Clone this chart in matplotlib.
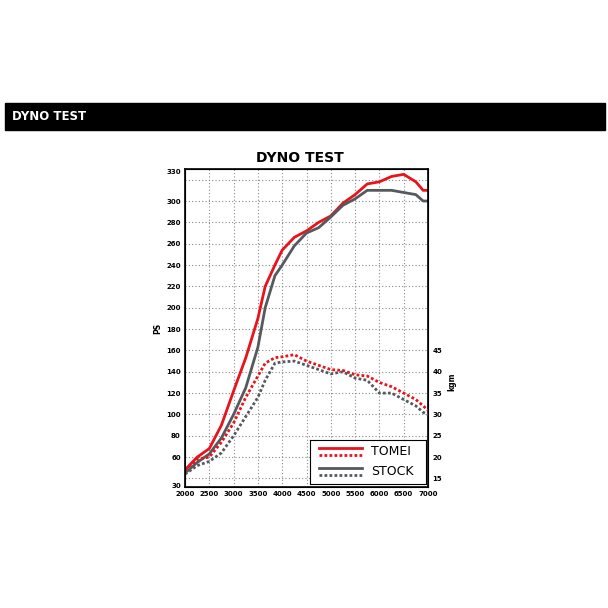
import matplotlib.pyplot as plt

rpm = [2000, 2250, 2500, 2750, 3000, 3250, 3500, 3650, 3850, 4000, 4250, 4500,
       4750, 5000, 5250, 5500, 5750, 6000, 6250, 6500, 6750, 6900, 7000]
tomei_ps = [48, 60, 68, 90, 122, 153, 190, 220, 240, 254, 266, 272,
            280, 286, 298, 306, 316, 318, 323, 325, 318, 310, 310]
stock_ps = [45, 55, 63, 78, 100, 125, 163, 200, 230, 240, 258, 270,
            275, 285, 296, 302, 310, 310, 310, 308, 306, 300, 300]
tomei_kgm = [17, 19.5, 20, 23.5, 28, 34, 39, 42, 43.3, 43.5, 44, 42.5,
             41.5, 40.5, 40.3, 39.3, 39, 37.5, 36.5, 35, 33.5, 32, 31]
stock_kgm = [16, 18, 19, 21, 25, 29.5, 34, 38, 42, 42.3, 42.5, 41.5,
             40.5, 39.5, 40, 38.5, 38, 35, 35, 33.5, 32, 30.5, 30]

ps_ticks = [33, 60, 80, 100, 120, 140, 160, 180, 200, 220, 240, 260, 280, 300, 328]
ps_labels = ['30'] + [str(v) for v in ps_ticks[1:-1]] + ['330']
kgm_ticks = [15, 20, 25, 30, 35, 40, 45]
rpm_ticks = list(range(2000, 7001, 500))

RED = '#e8131b'
GREY = '#555a5e'

fig = plt.figure(figsize=(6.08, 6.08), dpi=100)
fig.patches.append(plt.Rectangle((5/608, 1 - 130/608), 600/608, 27/608,
                                 transform=fig.transFigure, color='black'))
fig.text(12/608, 1 - 116.5/608, 'DYNO TEST', color='white', fontsize=8.5,
         fontweight='bold', va='center')
fig.text(300/608, 1 - 158/608, 'DYNO TEST', fontsize=10, fontweight='heavy',
         ha='center', va='center')

ax = fig.add_axes([185/608, 1 - 487/608, 243/608, 318/608])
ax.set_xlim(2000, 7000)
ax.set_ylim(32, 330)
for v in range(2500, 7000, 500):
    ax.axvline(v, color='#888888', ls=(0, (1, 2)), lw=0.8)
for v in range(40, 321, 20):
    ax.axhline(v, color='#888888', ls=(0, (1, 2)), lw=0.8)
for s in ax.spines.values():
    s.set_linewidth(1.2)

ax.plot(rpm, tomei_ps, color=RED, lw=2)
ax.plot(rpm, stock_ps, color=GREY, lw=2)
ax.set_xticks(rpm_ticks)
ax.set_xticklabels([str(v) for v in rpm_ticks], fontsize=5, fontweight='bold')
ax.set_yticks(ps_ticks)
ax.set_yticklabels(ps_labels, fontsize=5, fontweight='bold')
ax.tick_params(length=0, pad=3)
ax.set_ylabel('PS', fontsize=5.5, fontweight='bold', labelpad=3)

ax2 = ax.twinx()
ax2.set_ylim((32 + 20) / 4, (330 + 20) / 4)
ax2.plot(rpm, tomei_kgm, color=RED, lw=2, ls=(0, (1, 0.8)))
ax2.plot(rpm, stock_kgm, color=GREY, lw=2, ls=(0, (1, 0.8)))
ax2.set_yticks(kgm_ticks)
ax2.set_yticklabels([str(v) for v in kgm_ticks], fontsize=5, fontweight='bold')
ax2.tick_params(length=0, pad=3)
ax2.set_ylabel('kgm', fontsize=5.5, fontweight='bold')
ax2.yaxis.set_label_coords(1.08, 0.33)

# legend box
lax = fig.add_axes([310/608, 1 - 484/608, 116/608, 44/608])
lax.set_xlim(0, 1)
lax.set_ylim(0, 4)
lax.set_xticks([])
lax.set_yticks([])
lax.plot([0.08, 0.45], [3.3, 3.3], color=RED, lw=2)
lax.plot([0.08, 0.45], [2.6, 2.6], color=RED, lw=2, ls=(0, (1, 0.8)))
lax.plot([0.08, 0.45], [1.5, 1.5], color=GREY, lw=2)
lax.plot([0.08, 0.45], [0.8, 0.8], color=GREY, lw=2, ls=(0, (1, 0.8)))
lax.text(0.53, 2.95, 'TOMEI', fontsize=9, va='center')
lax.text(0.53, 1.15, 'STOCK', fontsize=9, va='center')

fig.savefig('out.png', dpi=100)
